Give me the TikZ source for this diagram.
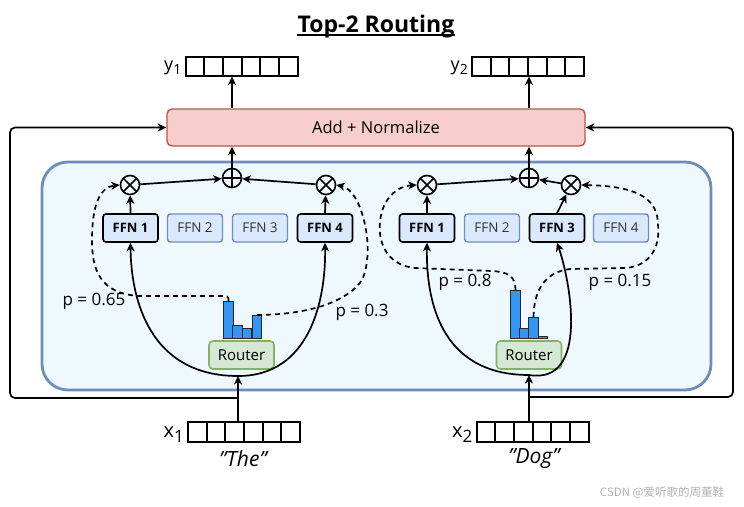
\documentclass[tikz,border=0pt]{standalone}
\usepackage{fontspec}
\setmainfont{Open Sans}
\newfontfamily\cjk{Noto Sans CJK SC}
\usetikzlibrary{arrows.meta,calc}
\definecolor{ctfill}{HTML}{EFF8FD}
\definecolor{ctedge}{HTML}{6C8EBF}
\definecolor{addfill}{HTML}{F8CECC}
\definecolor{addedge}{HTML}{B85450}
\definecolor{ffnfill}{HTML}{DAE8FC}
\definecolor{routerfill}{HTML}{D5E8D4}
\definecolor{routeredge}{HTML}{82B366}
\definecolor{barblue}{HTML}{3396F5}
\tikzset{
  ln/.style={line width=1.7pt},
  arr/.style={ln,-{Stealth[length=8.5pt,width=8pt,inset=2.5pt]}},
  dsh/.style={arr,dash pattern=on 5pt off 4pt},
  container/.style={draw=ctedge,fill=ctfill,line width=2.8pt,rounded corners=26pt,minimum width=669pt,minimum height=228pt,inner sep=0pt},
  addbox/.style={draw=addedge,fill=addfill,line width=1.4pt,rounded corners=5pt,minimum width=418pt,minimum height=37pt,inner sep=0pt,font=\fontsize{16.5}{18}\selectfont},
  ffnon/.style={draw=black,fill=ffnfill,rounded corners=3pt,line width=1.6pt,minimum width=55pt,minimum height=28pt,inner sep=0pt,font=\fontsize{13}{15}\selectfont\bfseries},
  ffnoff/.style={draw=ctedge,fill=ffnfill,rounded corners=3pt,line width=1.4pt,minimum width=55pt,minimum height=28pt,inner sep=0pt,font=\fontsize{13.5}{15}\selectfont,text=black!80},
  router/.style={draw=routeredge,fill=routerfill,rounded corners=4pt,line width=1.6pt,minimum width=65pt,minimum height=28pt,inner sep=0pt,font=\fontsize{15}{17}\selectfont},
  bar/.style={draw=black!85,fill=barblue,line width=1.1pt,minimum width=9.5pt,inner sep=0pt,anchor=south},
  opnode/.style={circle,draw,line width=1.6pt,minimum size=19pt,inner sep=0pt},
  otimesnode/.style={opnode,path picture={\draw[line width=1.6pt] (path picture bounding box.north west) -- (path picture bounding box.south east) (path picture bounding box.north east) -- (path picture bounding box.south west);}},
  oplusnode/.style={opnode,path picture={\draw[line width=1.6pt] (path picture bounding box.north) -- (path picture bounding box.south) (path picture bounding box.east) -- (path picture bounding box.west);}},
  vec/.style={draw,fill=white,line width=2pt,minimum width=112pt,minimum height=19pt,inner sep=0pt,
    path picture={\foreach \k in {1,...,5}{\draw[line width=2pt] ($(path picture bounding box.south west)!\k/6!(path picture bounding box.south east)$) -- ($(path picture bounding box.north west)!\k/6!(path picture bounding box.north east)$);}}},
  plab/.style={font=\fontsize{17}{19}\selectfont,inner sep=0pt},
  veclab/.style={inner sep=0pt,anchor=base east},
  word/.style={font=\fontsize{21}{23}\selectfont\itshape,inner sep=0pt},
}
\begin{document}
\begin{tikzpicture}[x=1pt,y=-1pt]
\useasboundingbox (0,0) rectangle (744,506);
\fill[white] (0,0) rectangle (744,506);

% title
\node[font=\fontsize{23}{26}\selectfont\bfseries,inner sep=0pt,anchor=base] (title) at (376,32) {Top-2 Routing};
\draw[line width=1.5pt] ([yshift=-3pt]title.base west) -- ([yshift=-3pt]title.base east);

% container
\node[container] (moe) at (376.5,276) {};

% add + normalize
\node[addbox] (add) at (376,127.5) {Add + Normalize};

% output vectors
\node[vec] (y1) at (241.5,66) {};
\node[vec] (y2) at (528,66) {};
\node[veclab] (y1lab) at ($(y1.west)+(-3,4)$) {\fontsize{18}{20}\selectfont y\raisebox{-4pt}{\fontsize{14}{16}\selectfont 1}};
\node[veclab] (y2lab) at ($(y2.west)+(-3,4)$) {\fontsize{18}{20}\selectfont y\raisebox{-4pt}{\fontsize{14}{16}\selectfont 2}};

% input vectors
\node[vec,minimum height=20pt] (x1) at (244,432) {};
\node[vec,minimum height=20pt] (x2) at (532.5,432) {};
\node[veclab] (x1lab) at ($(x1.west)+(-3,5)$) {\fontsize{20}{22}\selectfont x\raisebox{-5pt}{\fontsize{17}{19}\selectfont 1}};
\node[veclab] (x2lab) at ($(x2.west)+(-3,5)$) {\fontsize{20}{22}\selectfont x\raisebox{-5pt}{\fontsize{17}{19}\selectfont 2}};
\node[word] (the) at (243,459) {\symbol{34}The\symbol{34}};
\node[word] (dog) at (534,459) {\symbol{34}Dog\symbol{34}};

% ===== left token =====
\node[ffnon]  (ffn1L) at (130.5,228) {FFN 1};
\node[ffnoff] (ffn2L) at (195,228) {FFN 2};
\node[ffnoff] (ffn3L) at (260,228) {FFN 3};
\node[ffnon]  (ffn4L) at (325,228) {FFN 4};
\node[otimesnode] (ot1L) at (130,185) {};
\node[otimesnode] (ot2L) at (326,185) {};
\node[oplusnode]  (opL)  at (232,178) {};
\node[router] (routL) at (241.5,355) {Router};
\node[bar,minimum height=37pt] (b1L) at (228.5,339) {};
\node[bar,minimum height=13pt] (b2L) at (237.5,339) {};
\node[bar,minimum height=10pt] (b3L) at (247,339) {};
\node[bar,minimum height=23pt] (b4L) at (257,339) {};
\coordinate (rootL) at (238,376);
\coordinate (jL) at (238,398);
\coordinate (fbL) at (10,127.5);

\draw[arr] (ffn1L.north) -- (ot1L);
\draw[arr] (ffn4L.north) -- (ot2L);
\draw[arr] (ot1L) -- (opL);
\draw[arr] (ot2L) -- (opL);
\draw[arr] (opL) -- (opL |- add.south);
\draw[arr] (add.north -| opL) -- (y1.south -| opL);
\draw[arr] (rootL) .. controls (150,376) and (131,300) .. (ffn1L.south);
\draw[arr] (rootL) .. controls (310,376) and (326,300) .. (ffn4L.south);
\draw[arr] (x1.north -| rootL) -- (rootL);
\draw[arr,rounded corners=5pt] (jL) -| (fbL) -- (add.west);
\draw[dsh] (b1L.north) .. controls (228.5,296) .. (218,296) -- (140,296)
   .. controls (100,294) and (92,270) .. (92,240)
   .. controls (92,205) and (100,187) .. (ot1L.west);
\draw[dsh] (b4L.north) .. controls (300,315) and (345,305) .. (362,280)
   .. controls (376,250) and (362,190) .. (ot2L.east);
\node[plab] (p065) at (94,301) {p = 0.65};
\node[plab] (p03) at (362,312) {p = 0.3};

% ===== right token =====
\node[ffnon]  (ffn1R) at (427,228) {FFN 1};
\node[ffnoff] (ffn2R) at (492,228) {FFN 2};
\node[ffnon]  (ffn3R) at (557,228) {FFN 3};
\node[ffnoff] (ffn4R) at (621,228) {FFN 4};
\node[otimesnode] (ot1R) at (427,185) {};
\node[otimesnode] (ot2R) at (571,185) {};
\node[oplusnode]  (opR)  at (529,178) {};
\node[router] (routR) at (529,355) {Router};
\node[bar,minimum height=48pt] (b1R) at (515.5,339) {};
\node[bar,minimum height=10pt] (b2R) at (524.5,339) {};
\node[bar,minimum height=21pt] (b3R) at (533.5,339) {};
\node[bar,minimum height=2pt]  (b4R) at (543,339) {};
\coordinate (rootR) at (529,375);
\coordinate (jR) at (529,397);
\coordinate (fbR) at (733,127.5);

\draw[arr] (ffn1R.north) -- (ot1R);
\draw[arr] (ffn3R.north) -- (ot2R);
\draw[arr] (ot1R) -- (opR);
\draw[arr] (ot2R) -- (opR);
\draw[arr] (opR) -- (opR |- add.south);
\draw[arr] (add.north -| opR) -- (y2.south -| opR);
\draw[arr] (rootR) .. controls (440,375) and (426,300) .. (ffn1R.south);
\draw[arr] (rootR) .. controls (590,385) and (570,280) .. (ffn3R.south);
\draw[arr] (x2.north -| rootR) -- (rootR);
\draw[arr,rounded corners=5pt] (jR) -| (fbR) -- (add.east);
\draw[dsh] (b1R.north) .. controls (515.5,276) and (508,272) .. (492,271) -- (415,268)
   .. controls (385,265) and (378,240) .. (380,222)
   .. controls (382,198) and (398,186) .. (ot1R.west);
\draw[dsh] (b3R.north) .. controls (534,290) and (545,272) .. (570,269) -- (625,268)
   .. controls (655,266) and (660,240) .. (658,225)
   .. controls (658,200) and (640,186) .. (ot2R.east);
\node[plab] (p08) at (465,282) {p = 0.8};
\node[plab] (p015) at (620,282) {p = 0.15};

% watermark
\node[text=black!30,font=\cjk\fontsize{11.5}{13}\selectfont,inner sep=0pt] (wm) at (662,493) {CSDN @爱听歌的周董鞋};
\end{tikzpicture}
\end{document}
